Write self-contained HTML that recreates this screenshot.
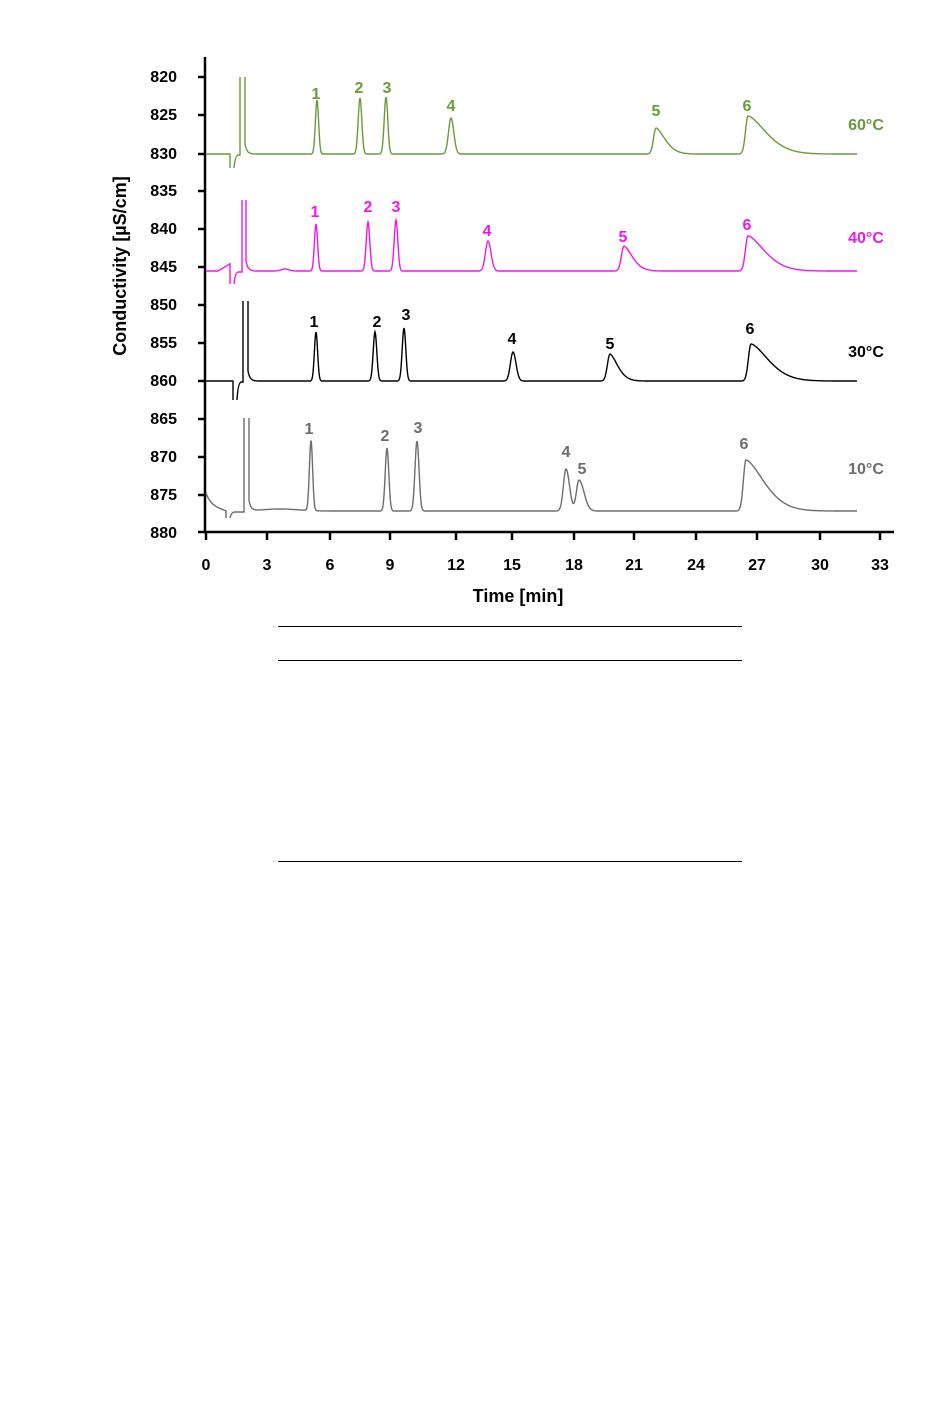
<!DOCTYPE html>
<html><head><meta charset="utf-8"><style>
html,body{margin:0;padding:0;background:#fff;}
svg{display:block;}
text{font-family:"Liberation Sans","DejaVu Sans",sans-serif;font-weight:bold;}
</style></head><body>
<svg id="s" width="950" height="1408" viewBox="0 0 950 1408" xmlns="http://www.w3.org/2000/svg">
<g stroke="#000" stroke-width="2.5" fill="none">
<line x1="205" y1="57" x2="205" y2="533"/>
<line x1="204" y1="532" x2="894" y2="532"/>
</g>
<g id="ticks" stroke="#000" stroke-width="2.5"></g>
<g font-size="16" text-anchor="end" fill="#000">
<text x="177" y="82">820</text><text x="177" y="120">825</text><text x="177" y="159">830</text>
<text x="177" y="196">835</text><text x="177" y="234">840</text><text x="177" y="272">845</text>
<text x="177" y="310">850</text><text x="177" y="348">855</text><text x="177" y="386">860</text>
<text x="177" y="424">865</text><text x="177" y="462">870</text><text x="177" y="500">875</text>
<text x="177" y="538">880</text>
</g>
<g font-size="16" text-anchor="middle" fill="#000">
<text x="206" y="570">0</text><text x="267" y="570">3</text><text x="330" y="570">6</text>
<text x="390" y="570">9</text><text x="456" y="570">12</text><text x="512" y="570">15</text>
<text x="574" y="570">18</text><text x="634" y="570">21</text><text x="696" y="570">24</text>
<text x="757" y="570">27</text><text x="820" y="570">30</text><text x="880" y="570">33</text>
</g>
<text x="518" y="602" font-size="18" text-anchor="middle">Time [min]</text>
<text transform="translate(126,266) rotate(-90)" font-size="18" text-anchor="middle">Conductivity [µS/cm]</text>
<g id="traces" fill="none" stroke-width="1.4"></g>
<g font-size="16" text-anchor="middle" fill="#6b9a3a">
<text x="316" y="99">1</text><text x="359" y="93">2</text><text x="387" y="93">3</text><text x="451" y="111">4</text><text x="656" y="116">5</text><text x="747" y="111">6</text>
<text x="866" y="130">60°C</text></g>
<g font-size="16" text-anchor="middle" fill="#f018e8">
<text x="315" y="217">1</text><text x="368" y="212">2</text><text x="396" y="212">3</text><text x="487" y="236">4</text><text x="623" y="242">5</text><text x="747" y="230">6</text>
<text x="866" y="243">40°C</text></g>
<g font-size="16" text-anchor="middle" fill="#000">
<text x="314" y="327">1</text><text x="377" y="327">2</text><text x="406" y="320">3</text><text x="512" y="344">4</text><text x="610" y="349">5</text><text x="750" y="334">6</text>
<text x="866" y="357">30°C</text></g>
<g font-size="16" text-anchor="middle" fill="#6d6d6d">
<text x="309" y="434">1</text><text x="385" y="441">2</text><text x="418" y="433">3</text><text x="566" y="457">4</text><text x="582" y="474">5</text><text x="744" y="449">6</text>
<text x="866" y="474">10°C</text></g>
<g stroke="#000" stroke-width="1">
<line x1="278" y1="626.5" x2="742" y2="626.5"/>
<line x1="278" y1="660.5" x2="742" y2="660.5"/>
<line x1="278" y1="861.5" x2="742" y2="861.5"/>
</g>
</svg>
<script>
var NS="http://www.w3.org/2000/svg";
var tk=document.getElementById("ticks");
[77,115,154,191,229,267,305,343,381,419,457,495,532].forEach(function(y){var l=document.createElementNS(NS,"line");l.setAttribute("x1",198);l.setAttribute("x2",205);l.setAttribute("y1",y);l.setAttribute("y2",y);tk.appendChild(l);});
[206,267,330,390,456,512,574,634,696,757,820,880].forEach(function(x){var l=document.createElementNS(NS,"line");l.setAttribute("x1",x);l.setAttribute("x2",x);l.setAttribute("y1",532);l.setAttribute("y2",540);tk.appendChild(l);});
function add(d,color){var p=document.createElementNS(NS,"path");p.setAttribute("d",d);p.setAttribute("stroke",color);document.getElementById("traces").appendChild(p);}
function trace(color,base,peaks,spk,dip,startFn){
  var d="";
  // pre-injection segment
  for(var x=206;x<=dip[0];x+=0.5){var y=base+(startFn?startFn(x):0);d+=(x==206?"M":"L")+x+","+y.toFixed(1)+" ";}
  d+="L"+dip[0]+","+dip[1]+" ";
  d+="M"+(dip[0]+4)+","+dip[1]+" Q"+(dip[0]+5)+","+(base+2)+" "+(dip[0]+8)+","+(base+1)+" L"+spk[0]+","+(base+1)+" L"+spk[0]+","+spk[2]+" M"+spk[1]+","+spk[2]+" ";
  var first=true;
  for(var x=spk[1];x<=857;x+=0.5){
    var y=base;
    peaks.forEach(function(p){var c=p[0],h=base-p[1],sl=p[2],sr=p[3];var dx=x-c;
      if(dx<0)y-=h*Math.exp(-dx*dx/(2*sl*sl));
      else if(p[4])y-=h*Math.exp(-Math.pow(dx/sr,1.6));
      else y-=h*Math.exp(-dx*dx/(2*sr*sr));});
    if(x<spk[1]+12)y-=(spk[3]||10)*Math.exp(-(x-spk[1])/2);
    d+="L"+x+","+y.toFixed(1)+" ";
  }
  add(d,color);
}
trace("#6b9a3a",154,[[317,100,1.6,1.6],[360,98,1.8,1.8],[386,97,1.8,1.8],[451,118,2.5,2.8],[656,128,2.5,13,1],[748,116,2.5,26,1]],[240,245,77],[230,168]);
trace("#f018e8",271,[[316,224,1.6,1.6],[368,222,1.8,1.8],[396,220,1.8,1.8],[488,241,2.6,3],[624,246,2.6,12,1],[748,236,2.6,24,1],[285,269,4,4]],[242,246,200],[230,284],function(x){return x>218?-(x-218)*0.6:0;});
trace("#000",381,[[316,332,1.6,1.6],[375,332,1.8,1.8],[404,328,1.8,1.8],[513,352,2.6,3],[610,354,2.6,11,1],[751,344,2.6,25,1]],[243,248,301],[233,400]);
trace("#6d6d6d",511,[[311,441,1.6,1.6],[387,448,1.8,1.8],[417,441,2,2],[566,469,2.6,3.5],[579,480,2.6,5],[746,460,2.6,26,1],[280,509,18,18]],[244,249,418],[226,518],function(x){return -12*Math.exp(-(x-206)/5)-6*(1-(x-206)/20);});
</script>
</body></html>
